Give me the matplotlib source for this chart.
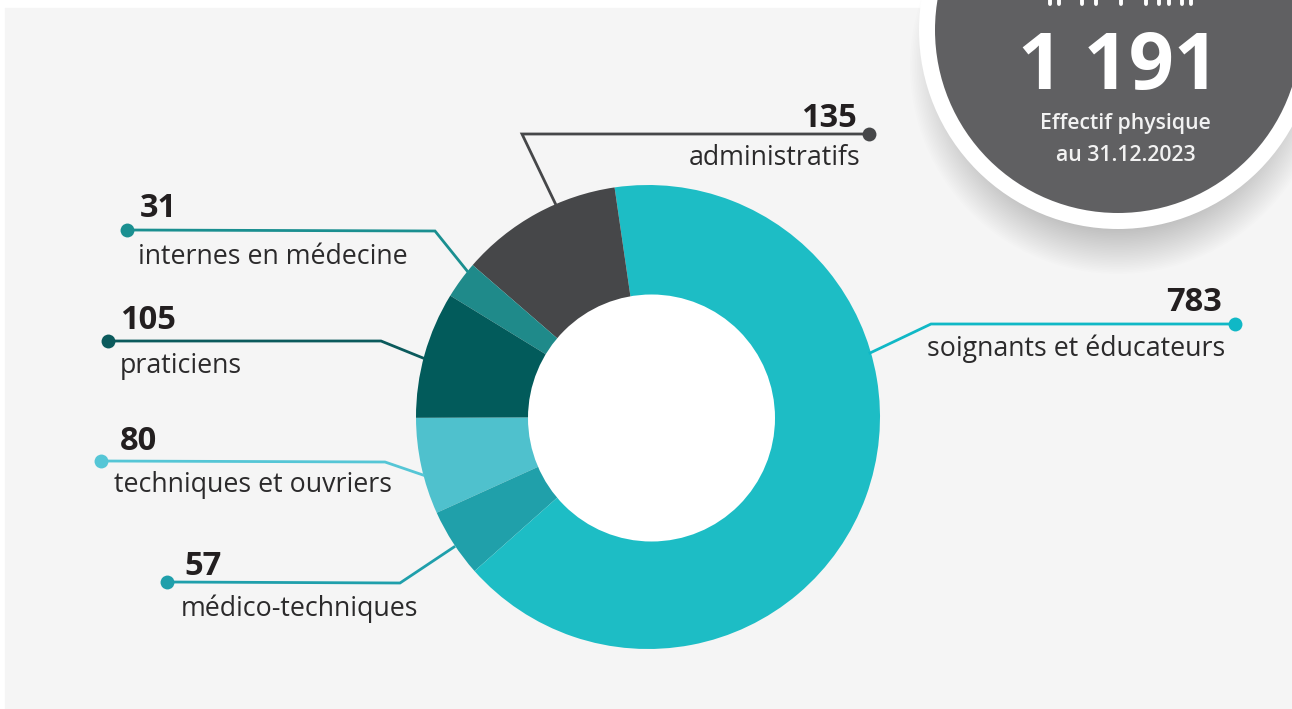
import matplotlib
matplotlib.use("Agg")
import matplotlib.pyplot as plt
from matplotlib.patches import Circle, Rectangle

plt.rcParams['font.family'] = ['Open Sans', 'DejaVu Sans']

W, H = 1292, 709

categories = ["techniques et ouvriers", "médico-techniques", "soignants et éducateurs",
              "administratifs", "internes en médecine", "praticiens"]
values = [80, 57, 783, 135, 31, 105]
colors = ["#4fc1cd", "#20a0aa", "#1dbdc5", "#464749", "#1f8a8a", "#025b5b"]
line_colors = ["#55c6d6", "#1f9fab", "#10b8c6", "#464749", "#1a8f90", "#0b5a5c"]
total_label = "1 191"
total_text = ["Effectif physique", "au 31.12.2023"]

# leader lines, in pixels: dot, elbow, slice end
leaders = [
    [(101, 461), (385, 462), (423, 475)],
    [(167, 582), (400, 583), (454, 547)],
    [(1235, 324), (931, 324), (870, 353)],
    [(869, 134), (522, 134), (556, 205)],
    [(127, 230), (435, 231), (468, 272)],
    [(108, 341), (381, 341), (423, 358)],
]
# value label (x, baseline y, ha), name label (x, baseline y, ha)
value_pos = [(120, 450, 'left'), (184, 575, 'left'), (1222, 311, 'right'),
             (857, 127, 'right'), (140, 217, 'left'), (120, 329, 'left')]
name_pos = [(114, 492, 'left'), (181, 616, 'left'), (1225, 356, 'right'),
            (860, 165, 'right'), (138, 264, 'left'), (120, 373, 'left')]
# feet of the letters cut off by the top edge of the picture
cut_tips = [1050, 1059, 1082, 1096, 1121, 1146, 1159, 1169, 1182, 1191]

fig = plt.figure(figsize=(W / 100, H / 100), dpi=100, facecolor='white')

# pixel overlay for panel, leaders, labels
bg = fig.add_axes([0, 0, 1, 1])
bg.set_xlim(0, W)
bg.set_ylim(H, 0)
bg.axis('off')
bg.add_patch(Rectangle((5, 8), W - 5, 700, color='#f5f5f5', zorder=0))

# donut, the hole sits a little off centre in the original
cx, cy, r_out = 648, 417, 232
ax_pie = fig.add_axes([(cx - r_out) / W, 1 - (cy + r_out) / H, 2 * r_out / W, 2 * r_out / H])
ax_pie.pie(values, colors=colors, startangle=180.2, radius=1, wedgeprops=dict(linewidth=0))
ax_pie.set_xlim(-1, 1)
ax_pie.set_ylim(-1, 1)
ax_pie.set_zorder(1)

top = fig.add_axes([0, 0, 1, 1])
top.set_xlim(0, W)
top.set_ylim(H, 0)
top.axis('off')
top.set_zorder(2)

top.add_patch(Circle((651.5, 418), 123.5, color='white', lw=0, zorder=1))

for pts, col in zip(leaders, line_colors):
    top.plot([p[0] for p in pts], [p[1] for p in pts], color=col, lw=2.0, solid_joinstyle='miter')
    top.plot(pts[0][0], pts[0][1], 'o', color=col, ms=10, mew=0)

for val, name, vp, np_ in zip(values, categories, value_pos, name_pos):
    top.text(vp[0], vp[1], str(val), ha=vp[2], va='baseline', fontsize=23.5, fontweight='bold', color='#231f20')
    top.text(np_[0], np_[1], name, ha=np_[2], va='baseline', fontsize=19.25, color='#2b2a2b')

# badge with soft shadow
bx, by, r_grey, r_white = 1118, 30, 183, 199
for i in range(30):
    top.add_patch(Circle((bx, by + 36), r_white + 9 - i * 1.7, color='black', alpha=0.0065, lw=0, zorder=3))
top.add_patch(Circle((bx, by), r_white, color='white', lw=0, zorder=4))
top.add_patch(Circle((bx, by), r_grey, color='#606062', lw=0, zorder=5))
top.vlines(cut_tips, 0, 3.5, color='white', lw=2.8, capstyle='round', zorder=6)
top.text(1119, 89, total_label, ha='center', va='baseline', fontsize=57, fontweight='bold', color='white', zorder=6)
top.text(1125.5, 129, total_text[0], ha='center', va='baseline', fontsize=15.3, fontweight='semibold', color='#f2f2f2', zorder=6)
top.text(1125.5, 161, total_text[1], ha='center', va='baseline', fontsize=15.3, fontweight='semibold', color='#f2f2f2', zorder=6)

fig.savefig("out.png", dpi=100)
